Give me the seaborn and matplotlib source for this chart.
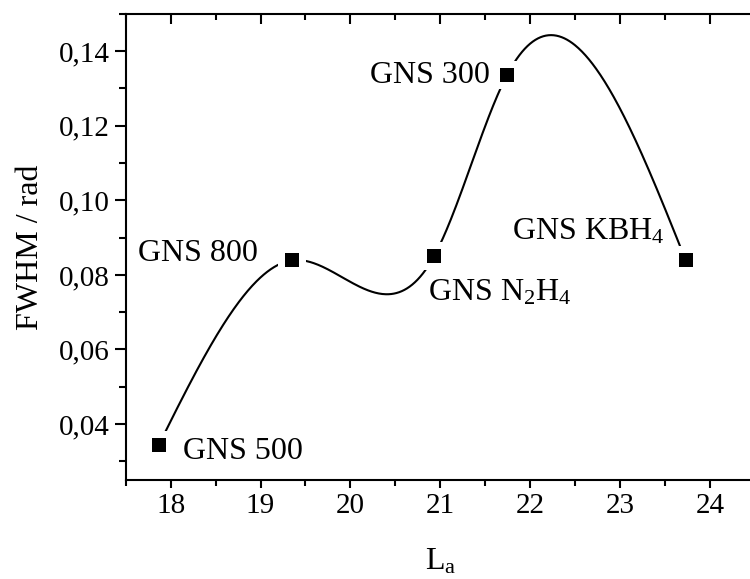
import numpy as np
import pandas as pd
import matplotlib
matplotlib.use("Agg")
import matplotlib.pyplot as plt
from matplotlib.ticker import MultipleLocator, FuncFormatter
import seaborn as sns

# Crystallite size L_a vs. FWHM for the graphene nanosheet samples
samples = ["GNS 500", "GNS 800", "GNS N$_2$H$_4$", "GNS 300", "GNS KBH$_4$"]
la_values = [17.87, 19.35, 20.93, 21.74, 23.73]
fwhm_values = [0.0345, 0.0839, 0.0850, 0.1335, 0.0839]


def natural_spline(x, y, xs):
    """Natural cubic spline through (x, y), evaluated at xs."""
    x = np.asarray(x, float)
    y = np.asarray(y, float)
    n = len(x)
    h = np.diff(x)
    A = np.zeros((n, n))
    r = np.zeros(n)
    A[0, 0] = A[-1, -1] = 1.0
    for i in range(1, n - 1):
        A[i, i - 1] = h[i - 1]
        A[i, i] = 2 * (h[i - 1] + h[i])
        A[i, i + 1] = h[i]
        r[i] = 3 * ((y[i + 1] - y[i]) / h[i] - (y[i] - y[i - 1]) / h[i - 1])
    c = np.linalg.solve(A, r)
    b = np.diff(y) / h - h * (2 * c[:-1] + c[1:]) / 3
    d = np.diff(c) / (3 * h)
    idx = np.clip(np.searchsorted(x, xs) - 1, 0, n - 2)
    t = xs - x[idx]
    return y[idx] + b[idx] * t + c[idx] * t ** 2 + d[idx] * t ** 3


points = pd.DataFrame({"La": la_values, "FWHM": fwhm_values})
xs = np.linspace(la_values[0], la_values[-1], 600)
curve = pd.DataFrame({"La": xs, "FWHM": natural_spline(la_values, fwhm_values, xs)})

sns.set_style("ticks")
plt.rcParams["font.family"] = ["Liberation Serif", "DejaVu Serif"]
plt.rcParams["mathtext.fontset"] = "custom"
plt.rcParams["mathtext.rm"] = "Liberation Serif"
plt.rcParams["mathtext.it"] = "Liberation Serif"
plt.rcParams["mathtext.default"] = "regular"
for key in ["text.color", "axes.labelcolor", "xtick.color", "ytick.color"]:
    plt.rcParams[key] = "black"

fig = plt.figure(figsize=(7.5, 5.79), dpi=100)
ax = fig.add_axes([0.1676, 0.171, 0.839, 0.805])

sns.lineplot(data=curve, x="La", y="FWHM", ax=ax, color="black",
             linewidth=1.5, zorder=2, sort=False)
# white pads leave a small gap between the curve and each marker
sns.scatterplot(data=points, x="La", y="FWHM", ax=ax, marker="s", s=380,
                color="white", linewidth=0, zorder=3)
sns.scatterplot(data=points, x="La", y="FWHM", ax=ax, marker="s", s=90,
                color="black", linewidth=0, zorder=4)

label_offsets = [
    (18.14, 0.0327, "left"),
    (18.97, 0.0857, "right"),
    (20.86, 0.0752, "left"),
    (21.55, 0.1335, "right"),
    (21.80, 0.0917, "left"),
]
for name, (tx, ty, ha) in zip(samples, label_offsets):
    ax.text(tx, ty, name, ha=ha, va="center", fontsize=23, zorder=5)

ax.set_xlim(17.5, 24.5)
ax.set_ylim(0.025, 0.150)
ax.xaxis.set_major_locator(MultipleLocator(1))
ax.xaxis.set_minor_locator(MultipleLocator(0.5))
ax.yaxis.set_major_locator(MultipleLocator(0.02))
ax.yaxis.set_minor_locator(MultipleLocator(0.01))
ax.yaxis.set_major_formatter(FuncFormatter(lambda v, p: f"{v:.2f}".replace(".", ",")))

ax.set_xlabel("L$_a$", fontsize=23, labelpad=20)
ax.set_ylabel("FWHM / rad", fontsize=23, labelpad=10)

for side in ["left", "bottom", "top", "right"]:
    ax.spines[side].set_visible(True)
    ax.spines[side].set_linewidth(1.5)
    ax.spines[side].set_color("black")

ax.tick_params(axis="both", which="major", labelsize=21, colors="black",
               width=1.5, direction="out")
ax.tick_params(axis="x", which="major", length=6, top=True)
ax.tick_params(axis="x", which="minor", length=4, width=1.5, top=True)
ax.tick_params(axis="y", which="major", length=8)
ax.tick_params(axis="y", which="minor", length=5, width=1.5)
# ticks on the top edge point into the plot
ax.tick_params(axis="x", which="both", top=True, labeltop=False)
for t in ax.xaxis.get_major_ticks():
    t.tick2line.set_marker(matplotlib.lines.TICKDOWN)
    t.tick2line.set_markersize(7)
for t in ax.xaxis.get_minor_ticks():
    t.tick2line.set_marker(matplotlib.lines.TICKDOWN)
    t.tick2line.set_markersize(4)

fig.savefig("out.png", dpi=100)
